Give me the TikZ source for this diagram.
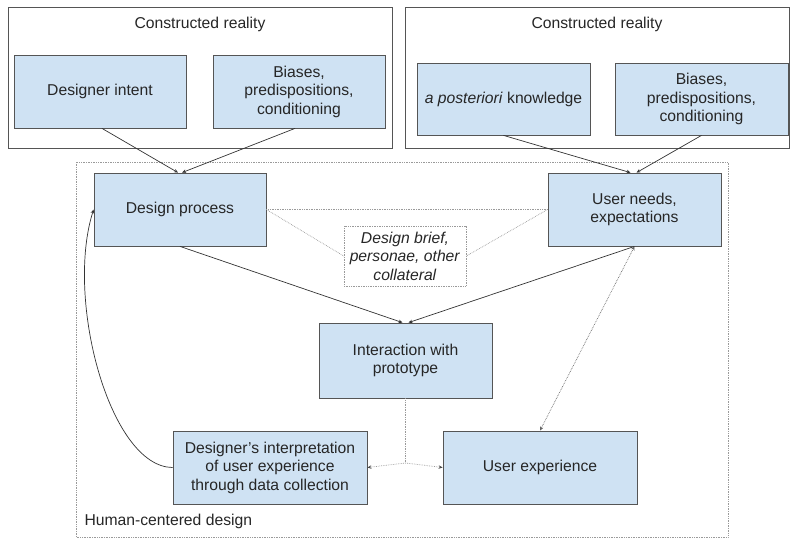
\documentclass[tikz,border=0pt]{standalone}
\usepackage{fontspec}
\setmainfont{Liberation Sans}
\usetikzlibrary{arrows.meta}
\definecolor{boxfill}{HTML}{CFE2F3}
\definecolor{boxline}{HTML}{555555}
\definecolor{dotgray}{HTML}{9A9A9A}
\begin{document}
\begin{tikzpicture}[x=1pt,y=-1pt,
  every node/.style={font=\fontsize{15.7}{18.5}\selectfont, text=black!85},
  bluebox/.style={draw=boxline, line width=0.8pt, fill=boxfill, align=center, inner sep=2pt},
  frame/.style={draw=boxline, line width=0.8pt},
  dotline/.style={draw=dotgray, densely dotted, line width=0.7pt},
  arr/.style={-{Stealth[length=4pt,width=3.5pt]}, draw=black!80, line width=0.7pt},
  darr/.style={{Stealth[length=4pt,width=3.5pt]}-{Stealth[length=4pt,width=3.5pt]}, draw=black!60, densely dotted, line width=0.7pt},
]
\useasboundingbox (0,0) rectangle (790,538);
% frames
\draw[frame] (8,7) rectangle (392,148);
\draw[frame] (405,7) rectangle (789,148);
\draw[dotline] (76,162) rectangle (728,537);
\node (t1) at (200,24) {Constructed reality};
\node (t2) at (597,24) {Constructed reality};
\node[anchor=west] (hcd) at (81,521) {Human-centered design};
% boxes
\node[bluebox, minimum width=172, minimum height=73] (di) at (100,91.5) {Designer intent};
\node[bluebox, minimum width=172, minimum height=73] (bl) at (299,91.5) {Biases,\\predispositions,\\conditioning};
\node[bluebox, minimum width=173, minimum height=72] (ap) at (503.5,99) {\textit{a posteriori} knowledge};
\node[bluebox, minimum width=173, minimum height=72] (br) at (701.5,99) {Biases,\\predispositions,\\conditioning};
\node[bluebox, minimum width=172, minimum height=73] (dp) at (180,209.5) {Design process};
\node[bluebox, minimum width=173, minimum height=73] (un) at (634.5,209.5) {User needs,\\expectations};
\node[draw=dotgray, densely dotted, line width=0.7pt, align=center, minimum width=122, minimum height=60, inner sep=1pt] (db) at (405,256) {\textit{Design brief,}\\\textit{personae, other}\\\textit{collateral}};
\node[bluebox, minimum width=173, minimum height=75] (ip) at (405.5,360.5) {Interaction with\\prototype};
\node[bluebox, minimum width=194, minimum height=73] (dint) at (270,467.5) {Designer's interpretation\\of user experience\\through data collection};
\node[bluebox, minimum width=194, minimum height=73] (ux) at (540,467.5) {User experience};
\coordinate (brk) at (405.5,463);
% connectors
\draw[arr] ([xshift=2]di.south) -- ([xshift=-2]dp.north);
\draw[arr] ([xshift=-4]bl.south) -- ([xshift=2]dp.north);
\draw[arr] (ap.south) -- ([xshift=-4]un.north);
\draw[arr] (br.south) -- ([xshift=2]un.north);
\draw[arr] (dp.south) -- ([xshift=-3]ip.north);
\draw[arr] (un.south) -- ([xshift=3]ip.north);
\draw[dotline] (dp.east) -- (un.west);
\draw[dotline] (dp.east) -- (db.west);
\draw[dotline] (un.west) -- (db.east);
\draw[darr] (un.south) -- (ux.north);
\draw[dotline] (ip.south) -- (brk);
\draw[dotline, -{Stealth[length=4pt,width=3.5pt,black!70]}] (brk) -- (dint.east);
\draw[dotline, -{Stealth[length=4pt,width=3.5pt,black!70]}] (brk) -- (ux.west);
\draw[arr] (dint.west) .. controls (110,467) and (65,300) .. (dp.west);
\end{tikzpicture}
\end{document}
